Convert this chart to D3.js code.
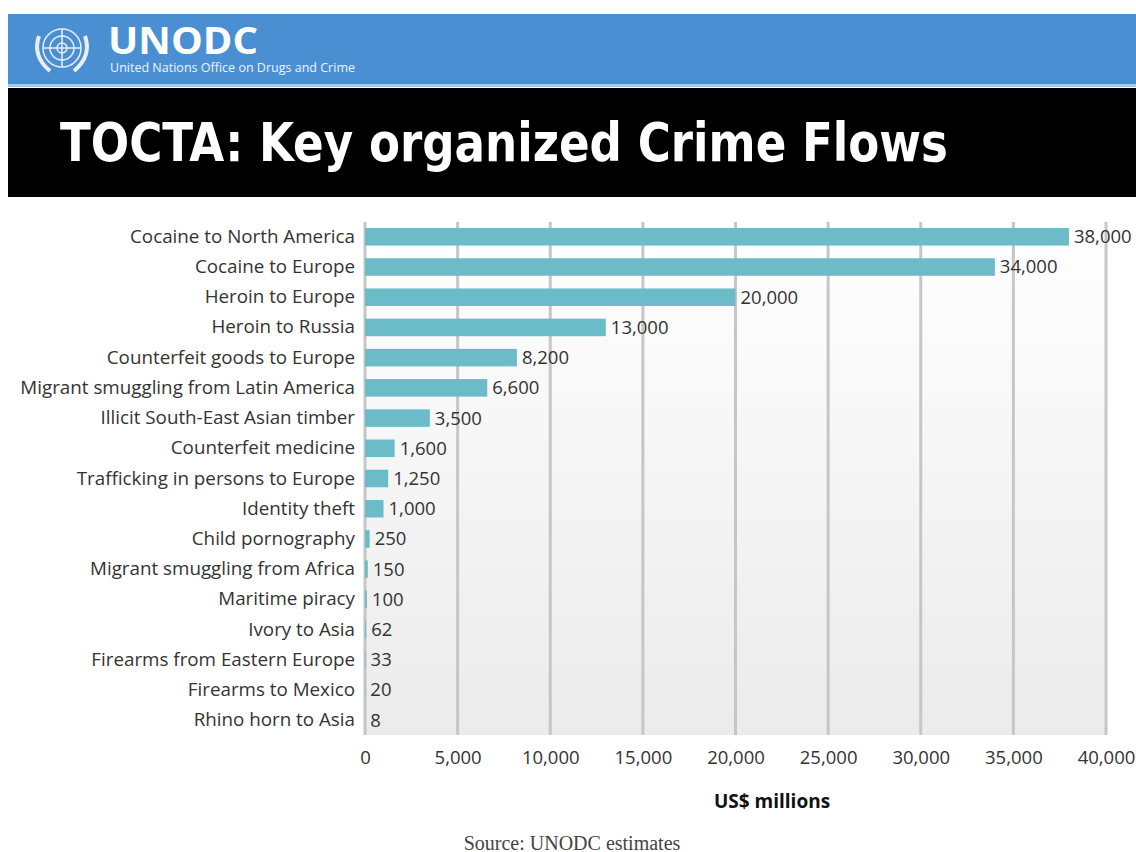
<!DOCTYPE html>
<html>
<head>
<meta charset="utf-8">
<script src="https://cdn.jsdelivr.net/npm/d3@7"></script>
<style>
  body { margin: 0; background: #fff; }
  svg { display: block; }
</style>
</head>
<body>
<script>
// data
const categories = [
  'Cocaine to North America', 'Cocaine to Europe', 'Heroin to Europe', 'Heroin to Russia',
  'Counterfeit goods to Europe', 'Migrant smuggling from Latin America', 'Illicit South-East Asian timber',
  'Counterfeit medicine', 'Trafficking in persons to Europe', 'Identity theft', 'Child pornography',
  'Migrant smuggling from Africa', 'Maritime piracy', 'Ivory to Asia', 'Firearms from Eastern Europe',
  'Firearms to Mexico', 'Rhino horn to Asia'
]
const values = [38000, 34000, 20000, 13000, 8200, 6600, 3500, 1600, 1250, 1000, 250, 150, 100, 62, 33, 20, 8]
const xTicks = [0, 5000, 10000, 15000, 20000, 25000, 30000, 35000, 40000]

const width = 1136
const height = 852
const margin = { top: 222, left: 365, right: 30, bottom: 117 }
const innerWidth = 1106 - margin.left
const innerHeight = height - margin.top - margin.bottom
const fmt = d3.format(',')

const svg = d3.select('body').append('svg')
  .attr('width', width)
  .attr('height', height)

// header band
svg.append('rect').attr('x', 8).attr('y', 14).attr('width', width - 8).attr('height', 71).attr('fill', '#4b8fd3')
svg.append('rect').attr('x', 8).attr('y', 84).attr('width', width - 8).attr('height', 3).attr('fill', '#a9c9ea')
svg.append('rect').attr('x', 8).attr('y', 88).attr('width', width - 8).attr('height', 109).attr('fill', '#000')

// little UN emblem
const logo = svg.append('g').attr('transform', 'translate(62,48)')
  .attr('fill', 'none').attr('stroke', '#e8eef7').attr('stroke-width', 1.5)
logo.append('circle').attr('r', 19)
logo.append('circle').attr('r', 12)
logo.append('circle').attr('r', 5)
logo.append('line').attr('x1', -19).attr('x2', 19)
logo.append('line').attr('y1', -19).attr('y2', 19)
logo.append('path').attr('d', 'M-23,-12 Q-30,8 -12,23 M23,-12 Q30,8 12,23').attr('stroke-width', 4)

svg.append('text').attr('x', 108).attr('y', 54)
  .attr('fill', '#fff').attr('font-family', 'Open Sans, sans-serif').attr('font-weight', 'bold')
  .attr('font-size', 37).attr('textLength', 150).attr('lengthAdjust', 'spacingAndGlyphs').text('UNODC')
svg.append('text').attr('x', 110).attr('y', 72)
  .attr('fill', '#eef3fa').attr('font-family', 'Open Sans, sans-serif')
  .attr('font-size', 12.5).attr('textLength', 245).text('United Nations Office on Drugs and Crime')

svg.append('text').attr('x', 60).attr('y', 161)
  .attr('fill', '#fff').attr('font-family', 'DejaVu Sans Condensed, DejaVu Sans, sans-serif').attr('font-weight', 'bold')
  .attr('font-size', 54).attr('textLength', 888).attr('lengthAdjust', 'spacingAndGlyphs')
  .text('TOCTA: Key organized Crime Flows')

// chart
const main = svg.append('g').attr('transform', `translate(${margin.left},${margin.top})`)

const defs = svg.append('defs')
const grad = defs.append('linearGradient').attr('id', 'bg').attr('x1', 0).attr('x2', 0).attr('y1', 0).attr('y2', 1)
grad.append('stop').attr('offset', '0%').attr('stop-color', '#ffffff')
grad.append('stop').attr('offset', '100%').attr('stop-color', '#ebebeb')

const xScale = d3.scaleLinear().domain([0, 40000]).range([0, innerWidth])
const yScale = d3.scaleBand().domain(categories).range([0, innerHeight]).paddingInner(0.42).paddingOuter(0.2)

main.append('rect').attr('width', innerWidth).attr('height', innerHeight).attr('fill', 'url(#bg)')

main.append('g').selectAll('line').data(xTicks).enter().append('line')
  .attr('x1', d => xScale(d)).attr('x2', d => xScale(d))
  .attr('y1', 0).attr('y2', innerHeight)
  .attr('stroke', '#c6c6c6').attr('stroke-width', 3)

main.append('g').selectAll('rect').data(values).enter().append('rect')
  .attr('x', 0)
  .attr('y', (d, i) => yScale(categories[i]))
  .attr('width', d => xScale(d))
  .attr('height', yScale.bandwidth())
  .attr('fill', '#6bbcc8')

main.append('g').selectAll('text').data(values).enter().append('text')
  .attr('x', d => xScale(d) + 5)
  .attr('y', (d, i) => yScale(categories[i]) + yScale.bandwidth() / 2)
  .attr('dy', '0.35em')
  .attr('font-family', 'Open Sans, sans-serif').attr('font-size', 18.5).attr('fill', '#333')
  .text(d => fmt(d))

const yAxis = d3.axisLeft(yScale).tickSize(0).tickPadding(10)
const yg = main.append('g').call(yAxis)
yg.select('.domain').remove()
yg.selectAll('text').attr('font-family', 'Open Sans, sans-serif').attr('font-size', 18.8).attr('fill', '#333')

const xAxis = d3.axisBottom(xScale).tickValues(xTicks).tickFormat(fmt).tickSize(0).tickPadding(16)
const xg = main.append('g').attr('transform', `translate(0,${innerHeight})`).call(xAxis)
xg.select('.domain').remove()
xg.selectAll('text').attr('font-family', 'Open Sans, sans-serif').attr('font-size', 18.5).attr('fill', '#333')

svg.append('text').attr('x', 772).attr('y', 808).attr('text-anchor', 'middle')
  .attr('font-family', 'Open Sans, sans-serif').attr('font-weight', 'bold').attr('font-size', 19)
  .attr('fill', '#111').text('US$ millions')

svg.append('text').attr('x', 572).attr('y', 850).attr('text-anchor', 'middle')
  .attr('font-family', 'Liberation Serif, serif').attr('font-size', 20)
  .attr('fill', '#444').text('Source: UNODC estimates')
</script>
</body>
</html>
